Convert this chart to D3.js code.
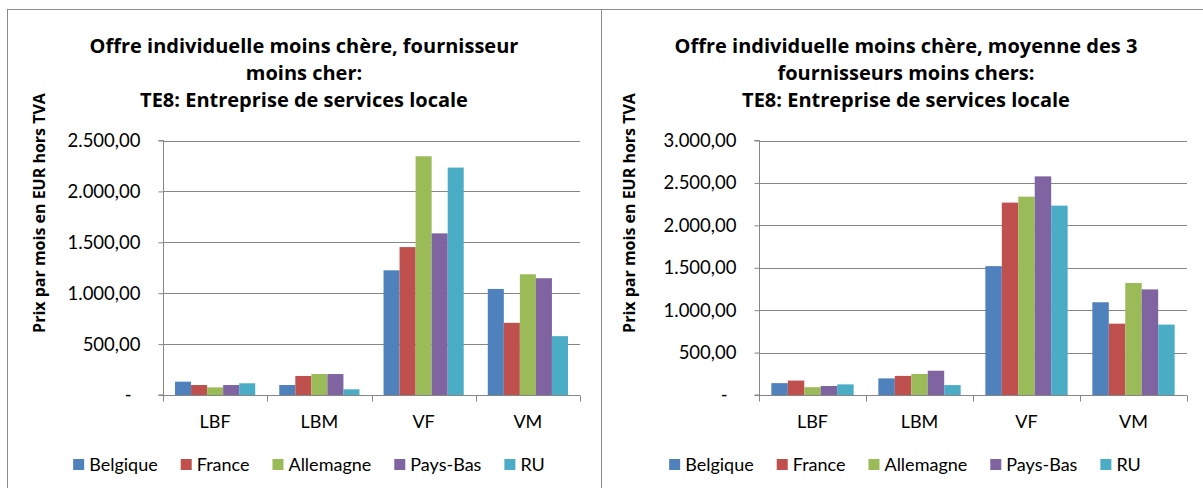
<!DOCTYPE html>
<html>
<head>
<meta charset="utf-8">
<script src="https://cdn.jsdelivr.net/npm/d3@7"></script>
<style>
  body { margin: 0; background: #fff; }
  svg { display: block; font-family: Lato, "Open Sans", sans-serif; }
  .bold { font-family: "Open Sans", Lato, sans-serif; font-weight: bold; }
</style>
</head>
<body>
<div id="chart"></div>
<script>
// categories and series
var categories = ["LBF", "LBM", "VF", "VM"];
var countries = ["Belgique", "France", "Allemagne", "Pays-Bas", "RU"];
var colors = ["#4F81BD", "#C0504D", "#9BBB59", "#8064A2", "#4BACC6"];

// chart 1: fournisseur moins cher, one row per country (LBF, LBM, VF, VM)
var cheapestValues = [
    [131, 98, 1225, 1042],
    [98, 187, 1453, 709],
    [75, 206, 2345, 1186],
    [98, 206, 1588, 1147],
    [115, 56, 2234, 578]
];
var cheapestTicks = [0, 500, 1000, 1500, 2000, 2500];
var cheapestTitle = ["Offre individuelle moins chère, fournisseur", "moins cher:", "TE8: Entreprise de services locale"];

// chart 2: moyenne des 3 fournisseurs moins chers
var average3Values = [
    [140, 196, 1519, 1093],
    [170, 225, 2268, 841],
    [92, 248, 2338, 1320],
    [106, 286, 2577, 1245],
    [125, 117, 2232, 830]
];
var average3Ticks = [0, 500, 1000, 1500, 2000, 2500, 3000];
var average3Title = ["Offre individuelle moins chère, moyenne des 3", "fournisseurs moins chers:", "TE8: Entreprise de services locale"];

var yLabel = "Prix par mois en EUR hors TVA";

var W = 1203, H = 488;
var gridColor = "#868686";

//belgian number format: 2.500,00
var locale = d3.formatLocale({decimal: ",", thousands: ".", grouping: [3], currency: ["", ""]});
var fmt = locale.format(",.2f");

var svg = d3.select("#chart").append("svg")
    .attr("width", W)
    .attr("height", H);

svg.append("rect").attr("width", W).attr("height", H).attr("fill", "#fff");

function drawPanel(opt) {
    var g = svg.append("g");

    //panel border
    g.append("rect")
        .attr("x", opt.px + 0.5)
        .attr("y", 9.5)
        .attr("width", opt.pw)
        .attr("height", H)
        .attr("fill", "none")
        .attr("stroke", "#8c8c8c");

    var x = d3.scaleBand()
        .domain(categories)
        .range([opt.x0, opt.x1]);

    var bw = x.bandwidth() / 6.5;
    var xs = d3.scaleBand()
        .domain(countries)
        .range([0.75 * bw, x.bandwidth() - 0.75 * bw]);

    var y = d3.scaleLinear()
        .domain([0, d3.max(opt.ticks)])
        .range([395, 140.5]);

    //gridlines
    g.selectAll(".grid")
        .data(opt.ticks.slice(1))
        .enter().append("line")
        .attr("x1", opt.x0)
        .attr("x2", opt.x1)
        .attr("y1", function(d) { return Math.round(y(d)) + 0.5; })
        .attr("y2", function(d) { return Math.round(y(d)) + 0.5; })
        .attr("stroke", gridColor);

    //y axis
    var yAxis = d3.axisLeft(y)
        .tickValues(opt.ticks)
        .tickSize(5)
        .tickPadding(18)
        .tickFormat(function(d) { return d === 0 ? "-" : fmt(d); });

    var ya = g.append("g")
        .attr("transform", "translate(" + (opt.x0 + 0.5) + ",0)")
        .call(yAxis);
    ya.select(".domain").attr("stroke", gridColor).attr("d", "M-5," + y(0) + "H0V" + y(d3.max(opt.ticks)) + "H-5");
    ya.selectAll(".tick line").attr("stroke", gridColor);
    ya.selectAll(".tick text")
        .attr("fill", "#000")
        .style("font-size", "18.5px")
        .attr("font-family", "Lato, sans-serif")
        .attr("dx", function(d) { return d === 0 ? -9 : 0; });

    //bars
    countries.forEach(function(c, i) {
        g.selectAll(".bar" + i)
            .data(opt.values[i])
            .enter().append("rect")
            .attr("x", function(d, j) { return x(categories[j]) + xs(c); })
            .attr("y", function(d) { return y(d); })
            .attr("width", xs.bandwidth())
            .attr("height", function(d) { return y(0) - y(d); })
            .attr("fill", colors[i]);
    });

    //x axis
    var xa = g.append("g")
        .attr("transform", "translate(0," + (y(0) + 0.5) + ")");
    xa.append("line")
        .attr("x1", opt.x0)
        .attr("x2", opt.x1)
        .attr("stroke", gridColor);
    xa.selectAll(".xtick")
        .data(d3.range(categories.length + 1))
        .enter().append("line")
        .attr("x1", function(i) { return Math.round(opt.x0 + i * x.bandwidth()) + 0.5; })
        .attr("x2", function(i) { return Math.round(opt.x0 + i * x.bandwidth()) + 0.5; })
        .attr("y1", 0)
        .attr("y2", 6)
        .attr("stroke", gridColor);
    xa.selectAll(".xlab")
        .data(categories)
        .enter().append("text")
        .attr("x", function(d) { return x(d) + x.bandwidth() / 2; })
        .attr("y", 32)
        .attr("text-anchor", "middle")
        .style("font-size", "18px")
        .text(function(d) { return d; });

    //title
    g.selectAll(".title")
        .data(opt.title)
        .enter().append("text")
        .attr("class", "bold")
        .attr("x", opt.tx)
        .attr("y", function(d, i) { return 53 + i * 27; })
        .attr("text-anchor", "middle")
        .style("font-size", "20px")
        .text(function(d) { return d; });

    //y axis title
    g.append("text")
        .attr("class", "bold")
        .attr("transform", "translate(" + opt.yx + ",213) rotate(-90)")
        .attr("text-anchor", "middle")
        .style("font-size", "16px")
        .text(yLabel);

    //legend
    var leg = g.append("g");
    var cx = 0;
    countries.forEach(function(c, i) {
        var item = leg.append("g").attr("transform", "translate(" + cx + ",0)");
        item.append("rect")
            .attr("x", 0)
            .attr("y", 459)
            .attr("width", 11)
            .attr("height", 11)
            .attr("fill", colors[i]);
        var t = item.append("text")
            .attr("x", 16)
            .attr("y", 471)
            .style("font-size", "18px")
            .text(c);
        cx += 16 + t.node().getComputedTextLength() + 23;
    });
    var legW = cx - 23;
    leg.attr("transform", "translate(" + (opt.lx - legW / 2) + ",0)");
}

drawPanel({px: 7, pw: 594, x0: 163, x1: 580, ticks: cheapestTicks, values: cheapestValues,
    title: cheapestTitle, tx: 304, yx: 45, lx: 309});
drawPanel({px: 601, pw: 610, x0: 759, x1: 1187, ticks: average3Ticks, values: average3Values,
    title: average3Title, tx: 906, yx: 635, lx: 905});
</script>
</body>
</html>
